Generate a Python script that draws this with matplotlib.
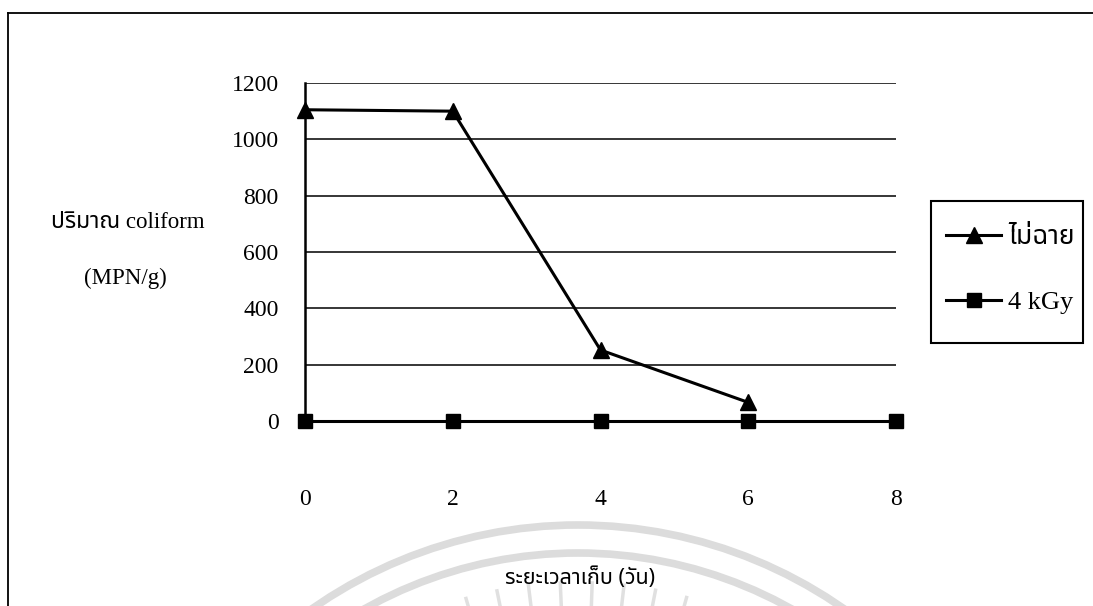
import matplotlib
matplotlib.use("Agg")
import numpy as np
import matplotlib.pyplot as plt
from matplotlib import font_manager
from matplotlib.ft2font import FT2Font
from matplotlib.patches import Arc, Rectangle

# storage time (days) and coliform counts (MPN/g)
days = [0, 2, 4, 6, 8]
untreated_days = [0, 2, 4, 6]
untreated = [1105, 1100, 252, 66]
irradiated = [0, 0, 0, 0, 0]
labels = ["ไม่ฉาย", "4 kGy"]
yticks = [0, 200, 400, 600, 800, 1000, 1200]


def find_thai_family():
    names = []
    for f in font_manager.fontManager.ttflist:
        try:
            if 0x0E1B in FT2Font(f.fname).get_charmap():
                names.append(f.name)
        except Exception:
            continue
    names = sorted(set(names))
    # prefer the plain sans Thai face if there is one
    for n in names:
        if n == "Noto Sans Thai":
            return [n]
    return names[:1]


thai = find_thai_family()
serif = ["Liberation Serif"] + thai + ["DejaVu Sans"]
thai_first = thai + ["Liberation Serif", "DejaVu Sans"]

W, H = 1093, 606
fig = plt.figure(figsize=(W / 100, H / 100), dpi=100)

# page frame, legend box and the faint stamp, in pixel coordinates
bg = fig.add_axes([0, 0, 1, 1], zorder=-1)
bg.set_xlim(0, W)
bg.set_ylim(H, 0)
bg.axis("off")
bg.plot([8, W], [13, 13], color="black", lw=1.3)
bg.plot([8, 8], [13, H], color="black", lw=1.3)
bg.add_patch(Rectangle((931, 201), 152, 142, fill=False,
                       edgecolor="black", lw=1.5))
cx, cy = 578, 989
for r in (464, 436):
    bg.add_patch(Arc((cx, cy), 2 * r, 2 * r, theta1=180, theta2=360,
                     color="#dcdcdc", lw=5.5))
for a in np.radians([-16, -11.5, -7, -2.5, 2, 6.5, 11, 15.5]):
    r0, r1 = 408, 370
    bg.plot([cx + r0 * np.sin(a), cx + r1 * np.sin(a)],
            [cy - r0 * np.cos(a), cy - r1 * np.cos(a)],
            color="#e0e0e0", lw=2.5, solid_capstyle="butt")

ax = fig.add_axes([305 / W, 1 - 421 / H, (896 - 305) / W, (421 - 83) / H])
ax.set_facecolor("none")

ax.plot(untreated_days, untreated, color="black", lw=2.2, marker="^",
        markersize=12, clip_on=False, zorder=3, label=labels[0])
ax.plot(days, irradiated, color="black", lw=2.2, marker="s",
        markersize=10, clip_on=False, zorder=3, label=labels[1])

ax.set_xlim(0, 8)
ax.set_ylim(0, 1200)
ax.set_xticks(days)
ax.set_yticks(yticks)
ax.grid(axis="y", color="black", lw=1.1)
ax.set_axisbelow(True)
for s in ("top", "right"):
    ax.spines[s].set_visible(False)
ax.spines["left"].set_linewidth(1.8)
ax.spines["bottom"].set_linewidth(1.8)
ax.tick_params(axis="y", length=0, pad=19)
ax.tick_params(axis="x", length=5, width=1, pad=44)
for t in ax.get_xticklabels() + ax.get_yticklabels():
    t.set_fontfamily(serif)
    t.set_fontsize(17)

fig.text(128 / W, 1 - 222 / H, "ปริมาณ coliform", ha="center", va="center",
         family=serif, fontsize=16.5)
fig.text(125 / W, 1 - 278 / H, "(MPN/g)", ha="center", va="center",
         family=serif, fontsize=16.5)
fig.text(580 / W, 1 - 578 / H, "ระยะเวลาเก็บ (วัน)", ha="center", va="center",
         family=thai_first, fontsize=15.5)

leg = fig.legend(loc="upper left", bbox_to_anchor=(946 / W, 1 - 226 / H),
                 frameon=False, prop={"family": serif, "size": 19},
                 labelspacing=1.55, handlelength=2.1, handletextpad=0.25,
                 borderpad=0, borderaxespad=0)

fig.savefig("out.png", dpi=100)
